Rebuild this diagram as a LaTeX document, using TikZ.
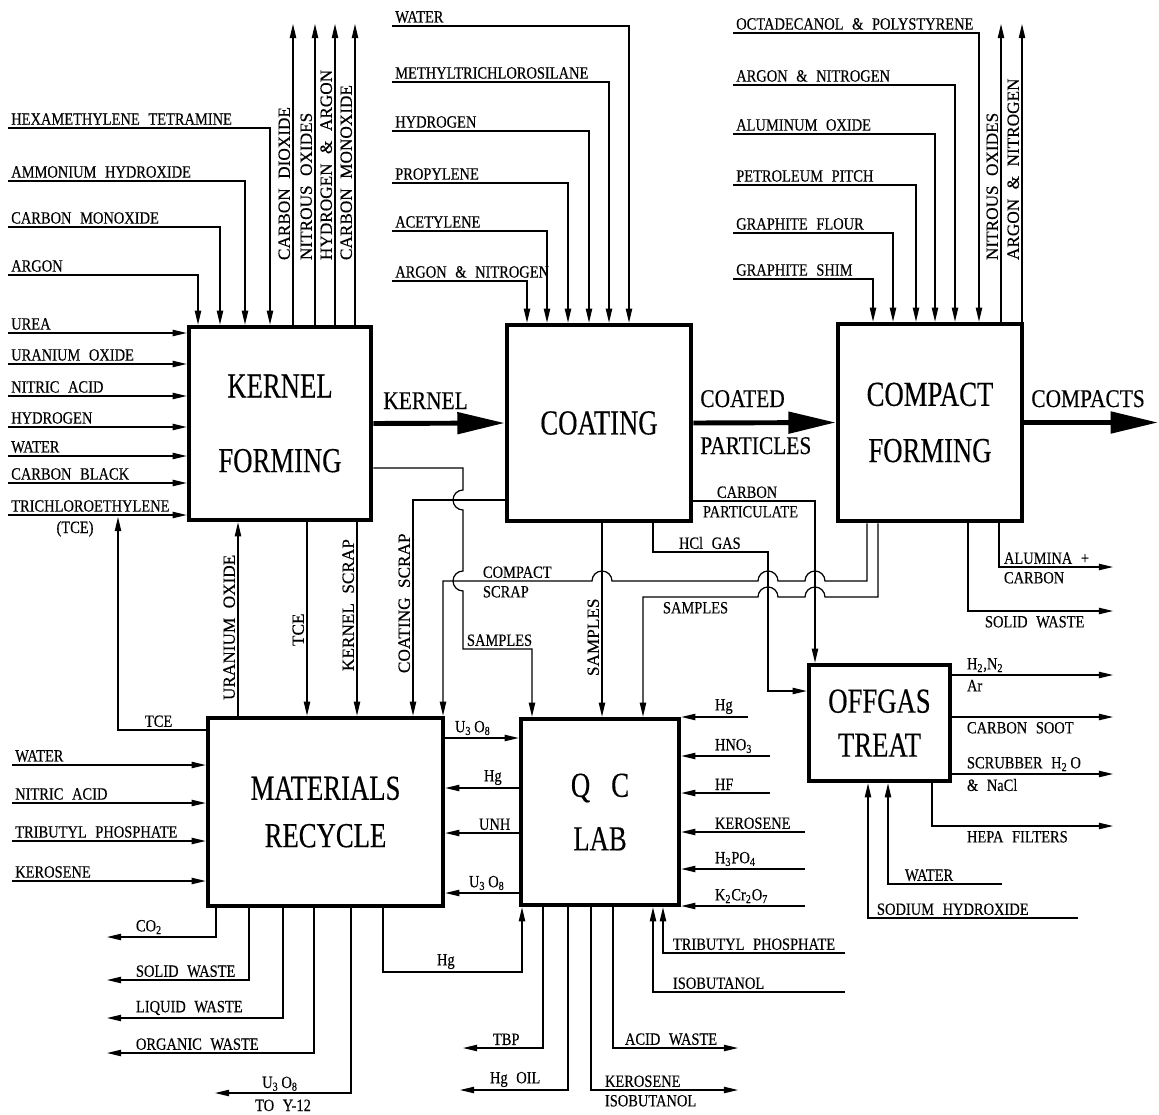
\documentclass[tikz,border=0pt]{standalone}
\usepackage{fontspec}
\setmainfont[FakeStretch=0.82]{Liberation Serif}
\newfontfamily\titlefont[FakeStretch=0.76,FakeBold=0.3]{Liberation Serif}
\newfontfamily\labfont[FakeStretch=0.84,FakeBold=0.35]{Liberation Serif}
\newfontfamily\vlabfont[FakeBold=0.35]{Liberation Serif}
\usetikzlibrary{arrows.meta}
\newcommand\px{0.02cm}
\newcommand\hoprad{0.2cm}
\newcommand\labsetup{\labfont\fontsize{9.8}{11}\selectfont\spaceskip=0.5em\relax}
\newcommand\vlabsetup{\vlabfont\fontsize{9.8}{11}\selectfont\spaceskip=0.55em\relax}
\tikzset{
  box/.style={draw, line width=2.6pt, align=center, inner sep=0pt,
    font=\titlefont\fontsize{20}{24}\selectfont},
  flow/.style={line width=0.7pt, -{Triangle[length=8pt,width=3.6pt]}},
  main/.style={line width=2.8pt, -{Triangle[length=27pt,width=12pt]}},
  lab/.style={inner sep=1.5pt, font=\labsetup},
  vlab/.style={inner sep=1.5pt, rotate=90, anchor=south west, font=\vlabsetup},
  big/.style={inner sep=0pt, font=\labfont\fontsize{14.5}{16}\selectfont}
}

\begin{document}
\begin{tikzpicture}[x=\px, y=-\px]
    \useasboundingbox (0,0) rectangle (1159,1115);

    \node[box, minimum width=182*\px, minimum height=193*\px] (kf) at (280,423.5) {KERNEL\\[18.5pt]FORMING};
    \node[box, minimum width=184*\px, minimum height=196*\px] (coat) at (599,423) {COATING};
    \node[box, minimum width=184*\px, minimum height=197*\px] (cf) at (930,422.5) {COMPACT\\[8pt]FORMING};
    \node[box, minimum width=235*\px, minimum height=188*\px] (mr) at (325.5,812) {MATERIALS\\[3pt]RECYCLE};
    \node[box, minimum width=158*\px, minimum height=186*\px] (qc) at (600,812) {Q\hspace{12pt}C\\[6.5pt]LAB};
    \node[box, minimum width=141*\px, minimum height=116*\px] (og) at (879.5,723) {OFFGAS\\[1pt]TREAT};

    \draw[main] (kf.east) -- (coat.west);
    \draw[main] (coat.east) -- (cf.west);
    \coordinate (cout) at (1158,422.5);
    \draw[main] (cf.east) -- (cout);
    \node[big, anchor=base west] (lkern) at (383,409) {KERNEL};
    \node[big, anchor=base west] (lcoat) at (700,407) {COATED};
    \node[big, anchor=base west] (lpart) at (700,454) {PARTICLES};
    \node[big, anchor=base west] (lcomp) at (1031,407) {COMPACTS};

    \foreach \t/\x/\y [count=\i] in {ARGON/198/275, CARBON MONOXIDE/220/227,
        AMMONIUM HYDROXIDE/245/181, HEXAMETHYLENE TETRAMINE/270/128}
        \draw[flow] (8,\y) node[lab, above right] (kt\i) {\t} -| (\x,0 |- kf.north);
    \foreach \t/\x [count=\i] in {CARBON DIOXIDE/293, NITROUS OXIDES/315,
        HYDROGEN \& ARGON/335, CARBON MONOXIDE/355} {
        \draw[flow] (\x,0 |- kf.north) -- (\x,24);
        \node[vlab] (ko\i) at (\x,263) {\t};
    }
    \foreach \t/\y [count=\i] in {UREA/333, URANIUM OXIDE/364, NITRIC ACID/396, HYDROGEN/427,
        WATER/456, CARBON BLACK/483, TRICHLOROETHYLENE/515}
        \draw[flow] (8,\y) node[lab, above right] (kl\i) {\t} -- (kf.west |- 0,\y);
    \node[lab, anchor=base] (ltce) at (75,533) {(TCE)};

    \foreach \t/\x/\y [count=\i] in {ARGON \& NITROGEN/527/281, ACETYLENE/547/231,
        PROPYLENE/568/183, HYDROGEN/589/131, METHYLTRICHLOROSILANE/609/82, WATER/629/26}
        \draw[flow] (392,\y) node[lab, above right] (ct\i) {\t} -| (\x,0 |- coat.north);

    \foreach \t/\x/\y [count=\i] in {GRAPHITE SHIM/873/279, GRAPHITE FLOUR/893/233,
        PETROLEUM PITCH/916/185, ALUMINUM OXIDE/935/134, ARGON \& NITROGEN/955/85,
        OCTADECANOL \& POLYSTYRENE/979/33}
        \draw[flow] (733,\y) node[lab, above right] (ft\i) {\t} -| (\x,0 |- cf.north);
    \foreach \t/\x [count=\i] in {NITROUS OXIDES/1001, ARGON \& NITROGEN/1022} {
        \draw[flow] (\x,0 |- cf.north) -- (\x,24);
        \node[vlab] (fo\i) at (\x,263) {\t};
    }

    \draw[flow] (999,0 |- cf.south) |- (1113,567);
    \node[lab, anchor=south west] (lalu) at (1001,567) {ALUMINA +};
    \node[lab, anchor=north west] (lcarb) at (1001,569) {CARBON};
    \draw[flow] (968,0 |- cf.south) |- (1113,611);
    \node[lab, anchor=north west] (lsolid) at (982,613) {SOLID WASTE};

    \draw[flow] (867,0 |- cf.south) -- (867,581) -- (825,581)
        arc[start angle=0, end angle=180, radius=\hoprad] -- (778,581)
        arc[start angle=0, end angle=180, radius=\hoprad] -- (612,581)
        arc[start angle=0, end angle=180, radius=\hoprad] -- (443,581) -- (443,0 |- mr.north);
    \node[lab, anchor=south west] (lcs1) at (480,581) {COMPACT};
    \node[lab, anchor=north west] (lcs2) at (480,583) {SCRAP};
    \draw[flow] (878,0 |- cf.south) -- (878,597) -- (825,597)
        arc[start angle=0, end angle=180, radius=\hoprad] -- (778,597)
        arc[start angle=0, end angle=180, radius=\hoprad] -- (643,597) -- (643,0 |- qc.north);
    \node[lab, anchor=north west] (lfs) at (660,599) {SAMPLES};

    \draw[flow] (602,0 |- coat.south) -- (602,0 |- qc.north);
    \node[vlab] (lcsa) at (602,679) {SAMPLES};
    \draw[flow] (653,0 |- coat.south) |- (768,552) |- (og.west |- 0,691);
    \node[lab, anchor=south west] (lhcl) at (676,552) {HCl GAS};
    \draw[flow] (coat.east |- 0,501) -| (815,0 |- og.north);
    \node[lab, anchor=south west] (lcp1) at (714,501) {CARBON};
    \node[lab, anchor=north west] (lcp2) at (700,503) {PARTICULATE};
    \draw[flow] (coat.west |- 0,500) -| (413,0 |- mr.north);
    \node[vlab] (lcscr) at (413,676) {COATING SCRAP};

    \draw[flow] (kf.east |- 0,468) -- (463,468) -- (463,490)
        arc[start angle=90, end angle=270, radius=\hoprad] -- (463,571)
        arc[start angle=90, end angle=270, radius=\hoprad] -- (463,649) -- (532,649) -- (532,0 |- qc.north);
    \node[lab, anchor=south west] (lks) at (464,649) {SAMPLES};

    \draw[flow] (238,0 |- mr.north) -- (238,0 |- kf.south);
    \node[vlab] (luo) at (238,703) {URANIUM OXIDE};
    \draw[flow] (307,0 |- kf.south) -- (307,0 |- mr.north);
    \node[vlab] (ltce2) at (307,649) {TCE};
    \draw[flow] (357,0 |- kf.south) -- (357,0 |- mr.north);
    \node[vlab] (lkscr) at (357,674) {KERNEL SCRAP};
    \draw[flow] (mr.west |- 0,730) -| (118,517);
    \node[lab, anchor=south west] (ltce3) at (142,730) {TCE};

    \foreach \t/\y [count=\i] in {WATER/765, NITRIC ACID/803, TRIBUTYL PHOSPHATE/841, KEROSENE/881}
        \draw[flow] (12,\y) node[lab, above right] (ml\i) {\t} -- (mr.west |- 0,\y);
    \foreach \t/\x/\y [count=\i] in {CO\textsubscript{2}/216/937, SOLID WASTE/249/980,
        LIQUID WASTE/283/1018, ORGANIC WASTE/314/1053} {
        \draw[flow] (\x,0 |- mr.south) |- (107,\y);
        \node[lab, anchor=south west] (mb\i) at (133,\y) {\t};
    }
    \draw[flow] (351,0 |- mr.south) |- (215,1093);
    \node[lab, anchor=base] (ly1) at (280,1088) {U\textsubscript{3}\,O\textsubscript{8}};
    \node[lab, anchor=base] (ly2) at (283,1111) {TO Y-12};
    \draw[flow] (383,0 |- mr.south) |- (522,972) -- (522,0 |- qc.south);
    \node[lab, anchor=south west] (lhg) at (434,972) {Hg};

    \draw[flow] (mr.east |- 0,738) -- (qc.west |- 0,738);
    \node[lab, anchor=south west] (mq1) at (452,738) {U\textsubscript{3}\,O\textsubscript{8}};
    \foreach \t/\y/\x [count=\i] in {Hg/788/481, UNH/833/476, U\textsubscript{3}\,O\textsubscript{8}/893/466} {
        \draw[flow] (qc.west |- 0,\y) -- (mr.east |- 0,\y);
        \node[lab, anchor=south west] (qm\i) at (\x,\y) {\t};
    }

    \foreach \t/\y/\x [count=\i] in {Hg/717/748, HNO\textsubscript{3}/756/770, HF/793/770,
        KEROSENE/832/805, H\textsubscript{3}PO\textsubscript{4}/869/805,
        K\textsubscript{2}Cr\textsubscript{2}O\textsubscript{7}/906/805} {
        \draw[flow] (\x,\y) -- (qc.east |- 0,\y);
        \node[lab, anchor=south west] (qr\i) at (712,\y) {\t};
    }
    \draw[flow] (845,953) -| (663,0 |- qc.south);
    \node[lab, anchor=south west] (ltbp) at (670,953) {TRIBUTYL PHOSPHATE};
    \draw[flow] (845,992) -| (653,0 |- qc.south);
    \node[lab, anchor=south west] (liso) at (670,992) {ISOBUTANOL};

    \draw[flow] (543,0 |- qc.south) |- (463,1048);
    \node[lab, anchor=south west] (qb1) at (490,1048) {TBP};
    \draw[flow] (568,0 |- qc.south) |- (460,1090);
    \node[lab, anchor=south west] (qb2) at (487,1090) {Hg OIL};
    \draw[flow] (613,0 |- qc.south) |- (738,1048);
    \node[lab, anchor=south west] (qb3) at (622,1048) {ACID WASTE};
    \draw[flow] (591,0 |- qc.south) |- (738,1090);
    \node[lab, anchor=south west] (qb4) at (602,1090) {KEROSENE};
    \node[lab, anchor=north west] (qb5) at (602,1092) {ISOBUTANOL};

    \draw[flow] (og.east |- 0,675) -- (1113,675);
    \node[lab, anchor=south west] (og1) at (964,675) {H\textsubscript{2},N\textsubscript{2}};
    \node[lab, anchor=north west] (og2) at (964,677) {Ar};
    \draw[flow] (og.east |- 0,717) -- (1113,717);
    \node[lab, anchor=north west] (og3) at (964,719) {CARBON SOOT};
    \draw[flow] (og.east |- 0,774) -- (1113,774);
    \node[lab, anchor=south west] (og4) at (964,774) {SCRUBBER H\textsubscript{2}\,O};
    \node[lab, anchor=north west] (og5) at (964,776) {\& NaCl};
    \draw[flow] (932,0 |- og.south) |- (1113,826);
    \node[lab, anchor=north west] (og6) at (964,828) {HEPA FILTERS};
    \draw[flow] (1078,918) -| (868,0 |- og.south);
    \node[lab, anchor=south west] (og7) at (874,918) {SODIUM HYDROXIDE};
    \draw[flow] (1002,884) -| (888,0 |- og.south);
    \node[lab, anchor=south west] (og8) at (902,884) {WATER};
\end{tikzpicture}
\end{document}
